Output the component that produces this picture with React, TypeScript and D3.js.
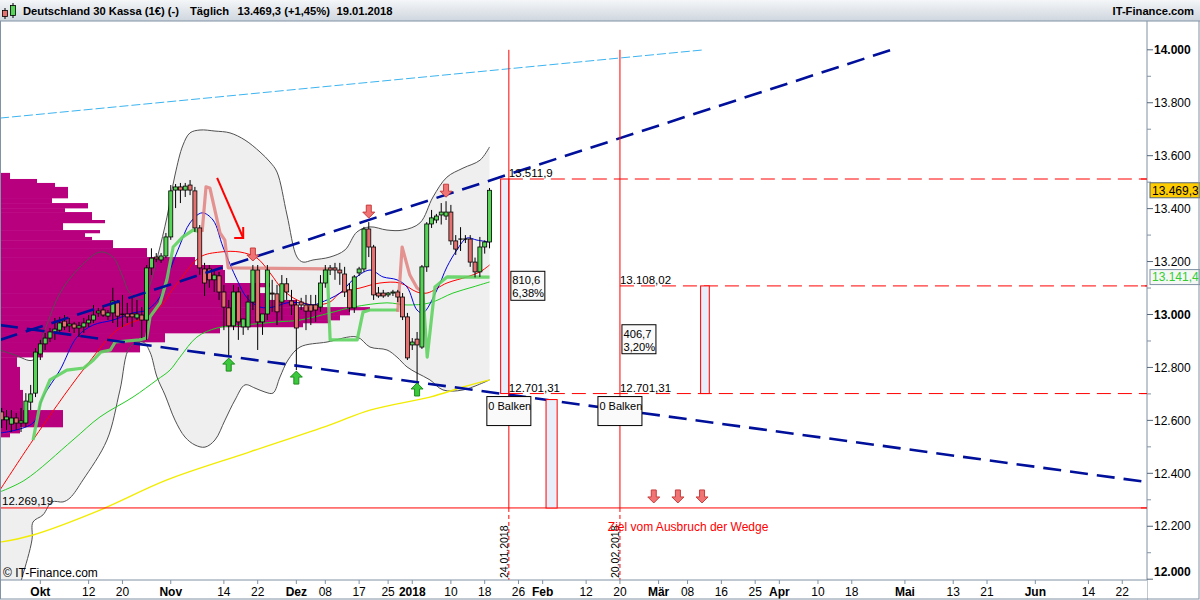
import React from "react";
import * as d3 from "d3";

// ---------------- DATA ----------------
const firstBarDate = "2017-09-21";
const calendarEnd = "2018-07-15";
const holidays = ["2017-12-25", "2017-12-26", "2018-03-30"];

const opens = [12632,12602,12586,12609,12590,12590,12669,12703,12851,12889,12911,12934,12941,12975,12957,12964,12949,12953,12968,12979,13006,13017,12994,13006,13044,13001,13002,13002,12987,12998,12979,13176,13217,13206,13221,13293,13470,13482,13470,13489,13467,13327,13172,13172,13131,13146,13085,13025,12957,13085,12953,12953,13047,13168,12972,13002,13081,13078,13047,13116,13051,13036,13047,13036,13036,13036,13028,13119,13176,13176,13168,13153,13093,13025,13157,13172,13323,13255,13081,13081,13074,13081,13085,13066,12991,12885,12907,12877,13180,13342,13357,13376,13372,13387,13278,13285,13285,13285,13198,13161,13255,13274];
const highs = [12647,12639,12639,12628,12647,12703,12734,12873,12904,12930,12949,12987,12991,12998,12987,12972,12972,12987,12998,13036,13025,13036,13017,13101,13055,13074,13044,13063,13055,13028,13187,13250,13232,13232,13308,13489,13493,13497,13497,13508,13482,13338,13195,13187,13168,13161,13112,13055,13112,13104,12983,13074,13187,13187,12998,13187,13131,13112,13149,13138,13093,13055,13063,13074,13074,13074,13149,13187,13187,13195,13195,13180,13119,13149,13180,13331,13349,13263,13104,13093,13085,13093,13093,13081,13006,12911,12934,13187,13349,13395,13380,13421,13428,13414,13300,13330,13300,13300,13215,13293,13280,13478];
const lows = [12571,12564,12556,12564,12556,12575,12639,12688,12828,12866,12896,12904,12930,12941,12934,12930,12915,12930,12953,12968,12991,12991,12979,12968,12953,12953,12968,12953,12979,12911,12904,13149,13198,13195,13213,13282,13402,13421,13444,13451,13312,13150,13070,13101,13085,13055,12941,12839,12941,12904,12923,12941,13017,12866,12923,12979,13010,12960,12979,13055,12998,12790,13017,12941,12960,12972,13010,13101,13149,13131,13112,13066,13010,13006,13146,13161,13217,13055,13063,13063,13066,13070,13047,12979,12828,12866,12745,12870,13161,13327,13345,13340,13357,13263,13225,13240,13270,13180,13140,13142,13230,13250];
const closes = [12602,12613,12609,12590,12598,12673,12700,12858,12889,12911,12934,12945,12968,12953,12964,12949,12957,12968,12979,12998,13013,12998,13006,13051,12994,13001,12991,12991,13002,12979,13176,13213,13210,13221,13293,13467,13482,13470,13485,13470,13327,13176,13119,13131,13149,13085,13028,12957,13085,12972,12983,13047,13168,12972,13002,13168,13078,13010,13116,13085,13036,12949,13036,13013,13013,13017,13119,13168,13168,13168,13157,13085,13025,13142,13172,13323,13255,13074,13070,13070,13081,13085,13066,12991,12836,12896,12885,13180,13342,13365,13372,13387,13387,13278,13247,13285,13285,13198,13161,13255,13274,13469.3];

// indicator samples: bar index / price
const bbUpperBars = [0.65,3.75,7.48,9.96,13.07,17.21,21.35,24.04,25.91,27.56,30.25,31.7,33.36,35.22,36.88,38.53,39.98,42.06,45.16,48.27,51.37,54.48,56.55,58,60.07,62.14,63.38,65.45,68.97,72.08,74.56,77.25,80.77,84.08,87.6,90.3,93.19,96.51,100.03,102];
const bbUpperVals = [12866,12847,12828,12942,13081,13179,13236,13217,13149,13081,13055,13112,13225,13368,13527,13640,13686,13697,13693,13686,13659,13614,13576,13538,13376,13217,13198,13206,13217,13244,13312,13331,13319,13319,13346,13444,13519,13553,13583,13633];
const bbLowerBars = [0.65,3.75,5.2,7.27,7.48,9.55,11.41,13.69,15.14,17.83,22.8,25.49,27.56,30.25,31.7,33.15,34.81,36.88,38.95,41.02,43.09,45.16,47.23,49.3,51.37,53.44,55.51,57.17,58.62,60.28,62.76,68.35,74.56,77.25,80.77,82.84,84.91,86.98,89.67,92.36,96.51,102];
const bbLowerVals = [11700,11920,12005,12149,12216,12243,12292,12292,12307,12375,12526,12715,12877,12896,12858,12764,12696,12601,12537,12507,12499,12526,12601,12677,12734,12722,12707,12703,12764,12828,12877,12896,12915,12877,12866,12839,12802,12779,12753,12715,12715,12753];
const blueBars = [0.65,7.48,9.55,13.07,16.59,19.9,24.04,28.18,31.08,33.77,35.84,37.91,39.98,42.47,44.75,46.82,49.72,51.79,54.48,57.17,60.07,62.76,65.45,66.9,71.04,73.73,77.25,79.94,82.84,84.91,86.98,88.22,91.12,93.19,95.26,97.33,99.4,102];
const blueVals = [12552,12590,12688,12790,12915,12960,12979,13006,13017,13066,13168,13263,13346,13384,13357,13255,13131,13063,13028,13028,13044,13044,13036,13044,13081,13131,13168,13142,13131,13104,13017,13006,13093,13180,13244,13289,13281,13274];
const redBars = [0.65,7.48,17.83,24.87,28.18,31.08,33.77,35.84,37.91,42.06,46.2,50.34,53.86,56.55,59.24,62.14,65.45,68.97,71.04,75.18,79.32,83.46,86.98,89.05,93.19,97.33,100.03,102];
const redVals = [12337,12526,12790,12941,12972,12991,13028,13081,13131,13217,13236,13236,13213,13157,13093,13055,13036,13047,13081,13100,13119,13119,13085,13081,13119,13142,13161,13187];
const greenBars = [0.65,5.82,15.76,21.35,28.18,33.15,35.84,37.91,41.43,45.57,50.96,58,62.76,68.97,73.73,80.77,84.91,89.67,94.43,98.57,102];
const greenVals = [12330,12375,12526,12613,12688,12753,12790,12839,12915,12949,12960,12972,12979,13006,13028,13044,13036,13044,13081,13104,13123];
const yellowBars = [0.65,7.48,21.35,35.22,52.41,68.97,77.25,89.67,96.51,102];
const yellowVals = [12140,12167,12261,12375,12481,12583,12639,12688,12726,12753];

// trailing-stop line (green = long, pink = short)
const stopSegments = [
  { side: "long", bars: [7.5,9,11,14.5,18,20,21.5,23.5,24.5,29.5,31,31.7,33.8,35.2,36.5,38.5,40.6,42.5], vals: [12526,12666,12753,12790,12798,12828,12858,12866,12896,12904,12911,12991,13044,13131,13255,13293,13319,13312] },
  { side: "short", bars: [42.5,43.3,44.1,46.2,47.2,47.9,68.4], vals: [13312,13482,13478,13308,13281,13176,13172] },
  { side: "long", bars: [68.4,69,74.6,75.8,77.2,83], vals: [13172,12904,12904,13009,13017,13017] },
  { side: "short", bars: [83,83.9,85.5,87,88.2], vals: [13010,13255,13149,13100,13085] },
  { side: "long", bars: [88.2,89.1,90.7,93.2,102], vals: [13085,12839,13104,13142,13141.4] },
];

// volume profile: bin tops (price) and volume units
const profileTops = [13535,13512,13497,13482,13440,13421,13402,13387,13357,13346,13319,13308,13293,13281,13251,13217,13187,13168,13119,13104,13081,13055,13028,13017,12998,12979,12968,12953,12930,12896,12858,12839,12802,12715,12639,12575,12552,12537];
const profileVols = [10,37,55,68,52,88,65,92,105,63,100,85,92,113,147,195,223,225,270,260,267,297,370,350,340,330,303,220,165,140,43,17,20,23,63,20,10];

// trend lines [bar, price]
const wedgeUpper = [[0.65, 12904], [186.4, 14007]];
const wedgeLower = [[0.65, 12960], [238.1, 12367]];
const channelLine = [[0.65, 13742], [146.5, 14000]];

// signal arrows
const sellSignalBars = [53, 77, 93];
const buySignalBars = [48, 62, 87];
const targetArrowBars = [136, 141, 146];
const targetArrowPrice = 12288;

// measurement tool
const markDates = ["2018-01-24", "2018-02-20"];
const markLabels = ["24.01.2018", "20.02.2018"];
const level1 = 13511.9;
const level2 = 13108.02;
const levelBase = 12701.31;
const targetLevel = 12269.19;
const move1 = ["810,6", "6,38%"];
const move2 = ["406,7", "3,20%"];
const barCountText = "0 Balken";
const targetText = "Ziel vom Ausbruch der Wedge";
const rangeBars = [[104.3, 106], [145.7, 147.5], [113.7, 116]];

// axis
const yTicks = [12000,12200,12400,12600,12800,13000,13200,13400,13600,13800,14000];
const yMinor = [12100,12300,12500,12700,12900,13100,13300,13500,13700,13900];
const yBold = [12000, 13000, 14000];
const xTickLabels = ["Okt","12","20","Nov","14","22","Dez","08","17","25","2018","10","18","26","Feb","12","20","Mär","08","16","25","Apr","10","18","Mai","13","21","Jun","14","22"];
const xTickDates = ["2017-10-01","2017-10-12","2017-10-20","2017-11-01","2017-11-14","2017-11-22","2017-12-01","2017-12-08","2017-12-17","2017-12-25","2018-01-01","2018-01-10","2018-01-18","2018-01-26","2018-02-01","2018-02-12","2018-02-20","2018-03-01","2018-03-08","2018-03-16","2018-03-25","2018-04-01","2018-04-10","2018-04-18","2018-05-01","2018-05-13","2018-05-21","2018-06-01","2018-06-14","2018-06-22"];
const xTickBold = ["Okt","Nov","Dez","2018","Feb","Mär","Apr","Mai","Jun"];

const title = "Deutschland 30 Kassa (1€) (-)";
const period = "Täglich";
const lastQuote = "13.469,3 (+1,45%)";
const quoteDate = "19.01.2018";
const lastPrice = 13469.3;
const stopValue = 13141.4;

// ---------------- HELPERS ----------------
const parse = (s: string) => new Date(s + "T00:00:00Z");
const calendar: string[] = [];
for (let t = parse(firstBarDate).getTime(); t <= parse(calendarEnd).getTime(); t += 86400000) {
  const d = new Date(t);
  const iso = d.toISOString().slice(0, 10);
  if (d.getUTCDay() === 6) continue;
  if (holidays.includes(iso)) continue;
  calendar.push(iso);
}
const barOf = (iso: string) => {
  const i = calendar.indexOf(iso);
  if (i >= 0) return i + 1;
  return calendar.filter((c) => c < iso).length;
};

const de = d3.formatLocale({ decimal: ",", thousands: ".", grouping: [3], currency: ["", "€"] });
const fmtAxis = de.format(",.0f");
const fmtPrice = de.format(",.1f");

const FONT = "Liberation Sans, Arial, Helvetica, sans-serif";
const PL = 0, PR = 1147, PT = 21, PB = 580;

export default function App() {
  React.useEffect(() => {
    document.body.style.margin = "0";
  }, []);

  const x = d3.scaleLinear().domain([0.648, 0.648 + (PR - PL) / 4.83]).range([PL, PR]);
  const y = d3.scaleLinear().domain([12000, 14000]).range([579.2, 49.8]);

  const curve = d3.line<number[]>().x((d) => x(d[0])).y((d) => y(d[1])).curve(d3.curveCatmullRom.alpha(0.5));
  const straight = d3.line<number[]>().x((d) => x(d[0])).y((d) => y(d[1]));
  const zip = (a: number[], b: number[]) => a.map((v, i) => [v, b[i]]);

  const upperPts = zip(bbUpperBars, bbUpperVals);
  const lowerPts = zip(bbLowerBars, bbLowerVals);
  const bandPath = (curve(upperPts) as string) + "L" + (curve(lowerPts.slice().reverse()) as string).slice(1) + "Z";

  const bars = closes.map((c, i) => ({ k: i + 1, o: opens[i], h: highs[i], l: lows[i], c }));

  const profY = (p: number) => y(p);
  const volX = d3.scaleLinear().domain([0, 370]).range([0, 370]);

  const clipTo14000 = (pts: number[][]) => {
    const [a, b] = pts;
    if (b[1] <= 14000) return pts;
    const t = (14000 - a[1]) / (b[1] - a[1]);
    return [a, [a[0] + t * (b[0] - a[0]), 14000]];
  };

  const markX = markDates.map((d) => x(barOf(d)));

  const downArrow = (cx: number, tip: number) =>
    `M${cx},${tip}L${cx - 6},${tip - 6}L${cx - 2.5},${tip - 6}L${cx - 2.5},${tip - 13}L${cx + 2.5},${tip - 13}L${cx + 2.5},${tip - 6}L${cx + 6},${tip - 6}Z`;
  const upArrow = (cx: number, tip: number) =>
    `M${cx},${tip}L${cx - 6},${tip + 6}L${cx - 2.5},${tip + 6}L${cx - 2.5},${tip + 13}L${cx + 2.5},${tip + 13}L${cx + 2.5},${tip + 6}L${cx + 6},${tip + 6}Z`;

  const ax1 = x(45.6), ay1 = y(13516), ax2 = x(51.0), ay2 = y(13289);

  const yLbl = (v: number) => Math.min(Math.max(y(v), 50), 572);

  return (
    <div style={{ position: "absolute", left: 0, top: 0, width: 1200, height: 600 }}>
      <svg width={1200} height={600} style={{ display: "block" }} fontFamily={FONT}>
        <defs>
          <linearGradient id="hdr" x1="0" y1="0" x2="0" y2="1">
            <stop offset="0" stopColor="#f4f6f8" />
            <stop offset="1" stopColor="#cfd6de" />
          </linearGradient>
          <clipPath id="plotClip">
            <rect x={PL} y={PT} width={PR - PL} height={PB - PT} />
          </clipPath>
        </defs>
        <rect x={0} y={0} width={1200} height={600} fill="#ffffff" />

        <g clipPath="url(#plotClip)">
          <path d={bandPath} fill="#efefef" stroke="none" />
          {profileVols.map((v, i) => (
            <rect key={"vp" + i} x={PL} y={profY(profileTops[i])} width={volX(v)} height={profY(profileTops[i + 1]) - profY(profileTops[i]) + 0.3} fill="#b8007f" />
          ))}
          <path d={curve(upperPts) as string} fill="none" stroke="#505050" strokeWidth={1} />
          <path d={curve(lowerPts) as string} fill="none" stroke="#505050" strokeWidth={1} />
          <path d={curve(zip(yellowBars, yellowVals)) as string} fill="none" stroke="#f2ec00" strokeWidth={1.4} />
          <path d={curve(zip(greenBars, greenVals)) as string} fill="none" stroke="#22cc22" strokeWidth={1} />
          <path d={curve(zip(redBars, redVals)) as string} fill="none" stroke="#ff0000" strokeWidth={1} />
          <path d={curve(zip(blueBars, blueVals)) as string} fill="none" stroke="#0000dd" strokeWidth={1} />
          {stopSegments.map((s, i) => (
            <path key={"st" + i} d={straight(zip(s.bars, s.vals)) as string} fill="none"
              stroke={s.side === "long" ? "#5fd35f" : "#e07a78"} strokeOpacity={s.side === "long" ? 0.9 : 0.8}
              strokeWidth={3.2} strokeLinejoin="round" />
          ))}
          {bars.map((b) => {
            const cx = x(b.k);
            const up = b.c >= b.o;
            const top = y(Math.max(b.o, b.c));
            const bot = y(Math.min(b.o, b.c));
            const doji = Math.abs(b.c - b.o) < 1;
            return (
              <g key={"c" + b.k}>
                <line x1={cx} x2={cx} y1={y(b.h)} y2={y(b.l)} stroke="#000" strokeWidth={1} />
                {doji ? (
                  <line x1={cx - 2.2} x2={cx + 2.2} y1={top} y2={top} stroke="#000" strokeWidth={1.2} />
                ) : (
                  <rect x={cx - 2} y={top} width={4} height={Math.max(bot - top, 1)} fill={up ? "#55d455" : "#e57070"} stroke="#000" strokeWidth={0.8} />
                )}
              </g>
            );
          })}
          <path d={straight(clipTo14000(wedgeUpper)) as string} stroke="#00109a" strokeWidth={2.6} strokeDasharray="18,9" fill="none" />
          <path d={straight(wedgeLower) as string} stroke="#00109a" strokeWidth={2.6} strokeDasharray="18,9" fill="none" />
          <path d={straight(channelLine) as string} stroke="#3cb4f0" strokeWidth={1} strokeDasharray="9,3" fill="none" />

          <line x1={PL} x2={PR} y1={y(targetLevel)} y2={y(targetLevel)} stroke="#ff0000" strokeWidth={1} />
          <text x={2} y={y(targetLevel) - 3} fontSize={11.5} fill="#000">{de.format(",.2f")(targetLevel)}</text>

          <line x1={markX[0]} x2={PR} y1={y(level1)} y2={y(level1)} stroke="#ff0000" strokeDasharray="14,7" />
          <line x1={markX[0]} x2={PR} y1={y(levelBase)} y2={y(levelBase)} stroke="#ff0000" strokeDasharray="14,7" />
          <line x1={markX[1]} x2={PR} y1={y(level2)} y2={y(level2)} stroke="#ff0000" strokeDasharray="14,7" />

          <rect x={x(rangeBars[0][0])} y={y(level1)} width={x(rangeBars[0][1]) - x(rangeBars[0][0])} height={y(levelBase) - y(level1)} fill="#e8eefa" stroke="#ff0000" strokeWidth={1} />
          <rect x={x(rangeBars[1][0])} y={y(level2)} width={x(rangeBars[1][1]) - x(rangeBars[1][0])} height={y(levelBase) - y(level2)} fill="#e8eefa" stroke="#ff0000" strokeWidth={1} />
          <rect x={x(rangeBars[2][0])} y={y(levelBase) + 6} width={x(rangeBars[2][1]) - x(rangeBars[2][0])} height={y(targetLevel) - y(levelBase) - 6} fill="#e8eefa" stroke="#ff0000" strokeWidth={1} />

          {markX.map((mx, i) => (
            <g key={"mk" + i}>
              <line x1={mx} x2={mx} y1={y(14000)} y2={y(targetLevel)} stroke="#ff0000" strokeWidth={1} />
              <line x1={mx} x2={mx} y1={y(targetLevel)} y2={PB} stroke="#ff0000" strokeWidth={1} strokeDasharray="4,3" />
              <text transform={`translate(${mx - 1},${PB - 2}) rotate(-90)`} fontSize={10.5} fill="#000">{markLabels[i]}</text>
            </g>
          ))}

          <text x={markX[0]} y={y(level1) - 2} fontSize={11.5} fill="#000">{de.format(",.1f")(level1)}</text>
          <text x={markX[0]} y={y(levelBase) - 2} fontSize={11.5} fill="#000">{de.format(",.2f")(levelBase)}</text>
          <text x={markX[1]} y={y(level2) - 2} fontSize={11.5} fill="#000">{de.format(",.2f")(level2)}</text>
          <text x={markX[1]} y={y(levelBase) - 2} fontSize={11.5} fill="#000">{de.format(",.2f")(levelBase)}</text>

          {[{ mx: markX[0], t: move1, top: level1 }, { mx: markX[1], t: move2, top: level2 }].map((m, i) => {
            const cy = (y(m.top) + y(levelBase)) / 2;
            return (
              <g key={"mb" + i}>
                <rect x={m.mx + 2} y={cy - 15} width={34} height={29} fill="#fafafa" stroke="#000" strokeWidth={1} />
                <text x={m.mx + 3.5} y={cy - 2} fontSize={11.2} fill="#000">{m.t[0]}</text>
                <text x={m.mx + 3.5} y={cy + 11} fontSize={11.2} fill="#000">{m.t[1]}</text>
              </g>
            );
          })}
          {markX.map((mx, i) => (
            <g key={"bk" + i}>
              <rect x={mx - 22} y={y(levelBase) + 3} width={44} height={29} fill="#fafafa" stroke="#000" strokeWidth={1} />
              <text x={mx - 20.5} y={y(levelBase) + 16} fontSize={11} fill="#000">{barCountText}</text>
            </g>
          ))}

          <text x={x(126.5)} y={y(12182)} fontSize={12} fill="#ff0000">{targetText}</text>

          {sellSignalBars.map((k) => (
            <path key={"s" + k} d={downArrow(x(k), y(highs[k - 1]) - 4)} fill="#f07474" stroke="#c83c3c" strokeWidth={1} />
          ))}
          {buySignalBars.map((k) => (
            <path key={"b" + k} d={upArrow(x(k), y(lows[k - 1]) + 1)} fill="#3cc83c" stroke="#1e8c1e" strokeWidth={1} />
          ))}
          {targetArrowBars.map((k) => (
            <path key={"t" + k} d={downArrow(x(k), y(targetArrowPrice))} fill="#f07474" stroke="#c83c3c" strokeWidth={1} />
          ))}

          <line x1={ax1} y1={ay1} x2={ax2} y2={ay2} stroke="#ff0000" strokeWidth={2} />
          <path d={`M${ax2 - 9},${ay2}L${ax2},${ay2}L${ax2},${ay2 - 11}`} stroke="#ff0000" strokeWidth={2} fill="none" />
        </g>

        <text x={3} y={577} fontSize={12} fill="#000">© IT-Finance.com</text>

        <line x1={PR} x2={PR} y1={PT} y2={600} stroke="#8092a4" strokeWidth={1} />
        {yMinor.map((v) => (
          <line key={"ym" + v} x1={PR} x2={PR + 4} y1={y(v)} y2={y(v)} stroke="#8092a4" />
        ))}
        {yTicks.map((v) => (
          <g key={"yt" + v}>
            <line x1={PR} x2={PR + 6} y1={y(v)} y2={y(v)} stroke="#556677" />
            <text x={PR + 7} y={yLbl(v)} dy="0.35em" fontSize={12} fontWeight={yBold.includes(v) ? "bold" : "normal"} fill="#000">{fmtAxis(v)}</text>
          </g>
        ))}
        {[level1, level2, levelBase, targetLevel].map((v) => (
          <line key={"lt" + v} x1={PR - 6} x2={PR} y1={y(v)} y2={y(v)} stroke="#ff0000" />
        ))}
        <rect x={PR + 3} y={y(lastPrice) - 7.5} width={50} height={15} fill="#ffcc00" stroke="#556677" strokeWidth={1} />
        <text x={PR + 5} y={y(lastPrice)} dy="0.36em" fontSize={12} fill="#000">{fmtPrice(lastPrice)}</text>
        <rect x={PR + 3} y={y(stopValue) - 7.5} width={50} height={15} fill="#f4f7f4" stroke="#8092a4" strokeWidth={1} />
        <text x={PR + 5} y={y(stopValue)} dy="0.36em" fontSize={12} fill="#33cc33">{fmtPrice(stopValue)}</text>

        <rect x={0} y={PB} width={PR} height={600 - PB} fill="#ffffff" />
        <line x1={0} x2={PR} y1={PB} y2={PB} stroke="#8092a4" />
        {xTickLabels.map((lab, i) => {
          const tx = x(barOf(xTickDates[i]));
          return (
            <g key={"xt" + i}>
              <line x1={tx} x2={tx} y1={PB} y2={PB + 4} stroke="#8092a4" />
              <text x={tx} y={596} textAnchor="middle" fontSize={12} fontWeight={xTickBold.includes(lab) ? "bold" : "normal"} fill="#000">{lab}</text>
            </g>
          );
        })}
        <rect x={0.5} y={0.5} width={1198.5} height={598.5} fill="none" stroke="#8092a4" />

        <rect x={0} y={0} width={1200} height={PT} fill="url(#hdr)" />
        <line x1={0} x2={1200} y1={PT} y2={PT} stroke="#8092a4" />
        <line x1={5} x2={5} y1={8} y2={19} stroke="#000" />
        <rect x={2.5} y={10.5} width={5} height={6} fill="#e57070" stroke="#000" strokeWidth={0.8} />
        <line x1={13} x2={13} y1={3} y2={18} stroke="#000" />
        <rect x={10.5} y={5.5} width={5} height={10} fill="#55d455" stroke="#000" strokeWidth={0.8} />
        <text x={23} y={15} fontSize={11.2} fontWeight="bold" fill="#000">{title}</text>
        <text x={190} y={15} fontSize={11.2} fontWeight="bold" fill="#000">{period}</text>
        <text x={237.5} y={15} fontSize={11.2} fontWeight="bold" fill="#000">{lastQuote}</text>
        <text x={336.5} y={15} fontSize={11.2} fontWeight="bold" fill="#000">{quoteDate}</text>
        <text x={1194} y={15} fontSize={11.2} fontWeight="bold" textAnchor="end" fill="#000">IT-Finance.com</text>
      </svg>
    </div>
  );
}
